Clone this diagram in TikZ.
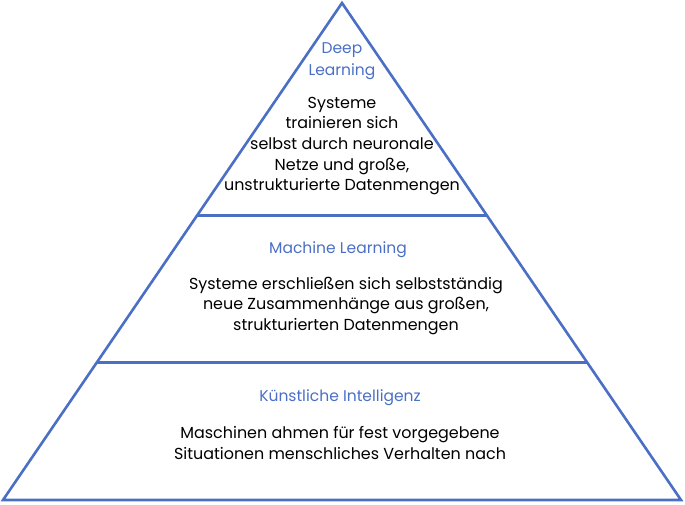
\documentclass[tikz,border=0pt]{standalone}
\usepackage{fontspec}
\setmainfont{Poppins}
\definecolor{pyblue}{HTML}{4A6FC4}
\usetikzlibrary{calc, positioning}

\begin{document}
\begin{tikzpicture}[x=1bp, y=-1bp,
  head/.style={align=center, text=pyblue, inner sep=0pt,
               font=\fontsize{15.6}{21.5}\selectfont},
  body/.style={align=center, text=black, inner sep=0pt,
               font=\fontsize{16}{20.7}\selectfont},
  edge/.style={draw=pyblue, line width=2.6bp, line join=miter},
]
\useasboundingbox (0,0) rectangle (685,505);

% Outline of the pyramid
\coordinate (apex) at (342, 3);
\coordinate (bl) at (3, 500);
\coordinate (br) at (681, 500);
\draw[edge] (apex) -- (br) -- (bl) -- cycle;

% Dividers
\coordinate (d1l) at ($(apex)!0.428!(bl)$);
\coordinate (d1r) at ($(apex)!0.428!(br)$);
\coordinate (d2l) at ($(apex)!0.723!(bl)$);
\coordinate (d2r) at ($(apex)!0.723!(br)$);
\draw[edge] (d1l) -- (d1r);
\draw[edge] (d2l) -- (d2r);

% Top: Deep Learning
\node[head] (dlh) at (342, 61) {Deep\\Learning};
\node[body] (dlb) at (342, 146) {Systeme\\trainieren sich\\selbst durch neuronale\\Netze und große,\\unstrukturierte Datenmengen};

% Middle: Machine Learning
\node[head] (mlh) at (338, 250) {Machine Learning};
\node[body] (mlb) at (346, 306) {Systeme erschließen sich selbstständig\\neue Zusammenhänge aus großen,\\strukturierten Datenmengen};

% Bottom: Kuenstliche Intelligenz
\node[head] (kih) at (340, 398) {Künstliche Intelligenz};
\node[body] (kib) at (340, 443) {Maschinen ahmen für fest vorgegebene\\Situationen menschliches Verhalten nach};

\end{tikzpicture}
\end{document}
